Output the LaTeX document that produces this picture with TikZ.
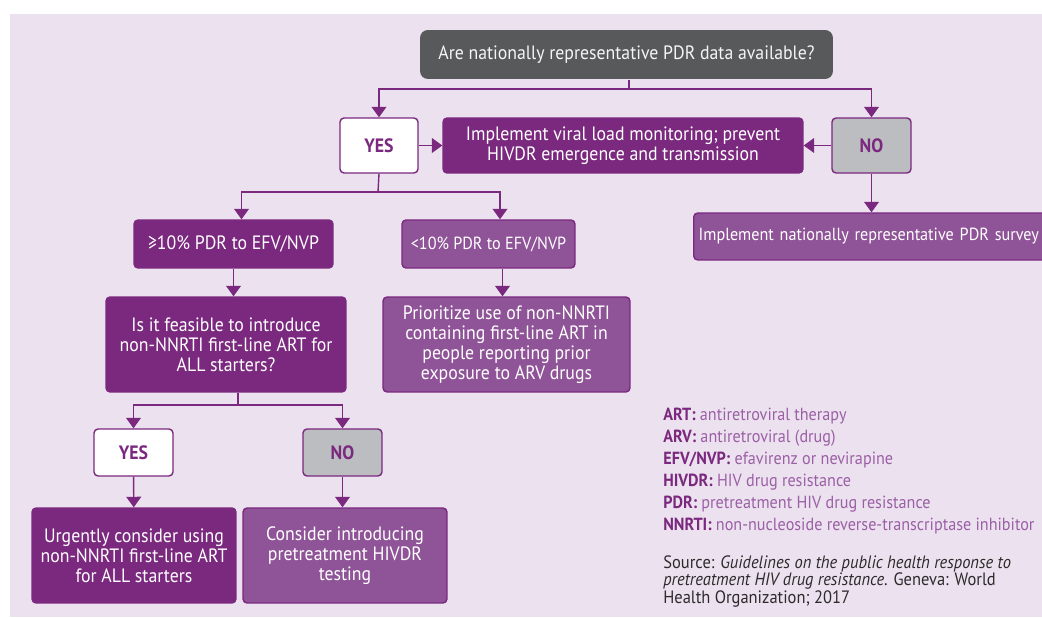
\documentclass[tikz,border=0pt]{standalone}
\usepackage{fontspec}
\setmainfont{PT Sans}[FakeStretch=0.92]
\usetikzlibrary{arrows.meta,calc,positioning}
\definecolor{bgpurple}{RGB}{236,226,239}
\definecolor{dpurple}{RGB}{123,40,127}
\definecolor{mpurple}{RGB}{143,83,151}
\definecolor{lpurple}{RGB}{155,95,165}
\definecolor{dgray}{RGB}{88,89,91}
\definecolor{lgray}{RGB}{188,189,192}
\definecolor{srcgray}{RGB}{45,42,44}
\newcommand{\boxfont}{\fontsize{11}{11.4}\selectfont}
\newcommand{\smallboxfont}{\fontsize{10}{11.4}\selectfont}
\newcommand{\abbr}[2]{{\bfseries\color{dpurple}#1} {\color{lpurple}#2}}

\begin{document}
\begin{tikzpicture}[x=0.02cm,y=-0.02cm]
\tikzset{box/.style={draw=dpurple, line width=0.8pt, rounded corners=2.3pt, text=white, align=center, inner sep=0pt, font=\boxfont}}
\tikzset{dbox/.style={box, fill=dpurple}}
\tikzset{mbox/.style={box, fill=mpurple}}
\tikzset{yesbox/.style={box, fill=white, text=dpurple, font=\boxfont\bfseries}}
\tikzset{nobox/.style={box, fill=lgray, text=dpurple, font=\boxfont\bfseries}}
\tikzset{link/.style={draw=dpurple, line width=0.8pt}}
\tikzset{arr/.style={link, -{Triangle[width=8.5pt,length=6pt]}}}

\useasboundingbox (0,0) rectangle (1042,618);
\fill[bgpurple] (10,14) rectangle (1042,617);

%% Top question
\node[box, fill=dgray, draw=none, rounded corners=4.5pt, text=white!92!gray, minimum width=8.26cm, minimum height=0.98cm] at (626.5,54.5) (q) {Are nationally representative PDR data available?};

\begin{scope}[minimum height=1.10cm]
    \node[yesbox, minimum width=1.56cm] at (379,145.5) (yes1) {YES};
    \node[dbox, minimum width=7.20cm] at (623,145.5) (impl) {Implement viral load monitoring; prevent\\HIVDR emergence and transmission};
    \node[nobox, minimum width=1.58cm] at (871.5,145.5) (no1) {NO};
\end{scope}

\node[mbox, anchor=west, inner xsep=0.1cm, text width=7.0cm, align=left, minimum height=0.94cm, font=\smallboxfont] at (693,236.5) (survey) {Implement nationally representative PDR survey};

%% Second level
\begin{scope}[minimum height=0.96cm]
    \node[dbox, minimum width=3.98cm] at (233.5,244) (ge10) {≥10\% PDR to EFV/NVP};
    \node[mbox, minimum width=3.46cm, font=\smallboxfont] at (488.5,244) (lt10) {<10\% PDR to EFV/NVP};
\end{scope}

\begin{scope}[minimum height=1.90cm]
    \node[dbox, minimum width=4.80cm] at (226,344.5) (feas) {Is it feasible to introduce\\non-NNRTI first-line ART for\\ALL starters?};
    \node[mbox, minimum width=4.94cm] at (506.5,344.5) (prio) {Prioritize use of non-NNRTI\\containing first-line ART in\\people reporting prior\\exposure to ARV drugs};
\end{scope}

%% Third level
\begin{scope}[minimum height=0.94cm, minimum width=1.58cm]
    \node[yesbox] at (133.5,452.5) (yes2) {YES};
    \node[nobox] at (342.5,452.5) (no2) {NO};
\end{scope}

\begin{scope}[minimum height=1.90cm, minimum width=4.08cm]
    \node[dbox] at (134,555.5) (urg) {Urgently consider using\\non-NNRTI first-line ART\\for ALL starters};
    \node[mbox] at (345,555.5) (cons) {Consider introducing\\pretreatment HIVDR\\testing};
\end{scope}

%% Connectors
\coordinate (qsplit) at (629,89);
\coordinate (ysplit) at (378,192);
\coordinate (fsplit) at (238,405);

\draw[link] (q.south -| qsplit) -- (qsplit);
\draw[arr] (qsplit) -| (yes1.north);
\draw[arr] (qsplit) -| (no1.north);
\draw[arr] (yes1) -- (impl);
\draw[arr] (no1) -- (impl);
\draw[arr] (no1.south) -- (no1.south |- survey.north);

\draw[link] (yes1.south) -- (ysplit);
\draw[arr] (ysplit) -| ([xshift=0.16cm]ge10.north);
\draw[arr] (ysplit) -| ([xshift=0.23cm]lt10.north);
\draw[arr] (ge10.south) -- (ge10.south |- feas.north);
\draw[arr] ([xshift=-0.08cm]prio.north |- lt10.south) -- ([xshift=-0.08cm]prio.north);

\draw[link] (feas.south -| fsplit) -- (fsplit);
\draw[arr] (fsplit) -| (yes2.north);
\draw[arr] (fsplit) -| (no2.north);
\draw[arr] (yes2) -- (urg);
\draw[arr] (no2) -- (no2.south |- cons.north);

%% Legend
\node[anchor=north west, align=left, inner sep=0pt, font=\fontsize{10}{12.5}\selectfont] at (663,408) (legend) {%
    \abbr{ART:}{antiretroviral therapy}\\
    \abbr{ARV:}{antiretroviral (drug)}\\
    \abbr{EFV/NVP:}{efavirenz or nevirapine}\\
    \abbr{HIVDR:}{HIV drug resistance}\\
    \abbr{PDR:}{pretreatment HIV drug resistance}\\
    \abbr{NNRTI:}{non-nucleoside reverse-transcriptase inhibitor}};

\node[anchor=north west, align=left, inner sep=0pt, text=srcgray, font=\fontsize{10.2}{10.1}\selectfont] at (663,555) (source) {%
    Source: \textit{Guidelines on the public health response to}\\
    \textit{pretreatment HIV drug resistance}. Geneva: World\\
    Health Organization; 2017};

\end{tikzpicture}
\end{document}
